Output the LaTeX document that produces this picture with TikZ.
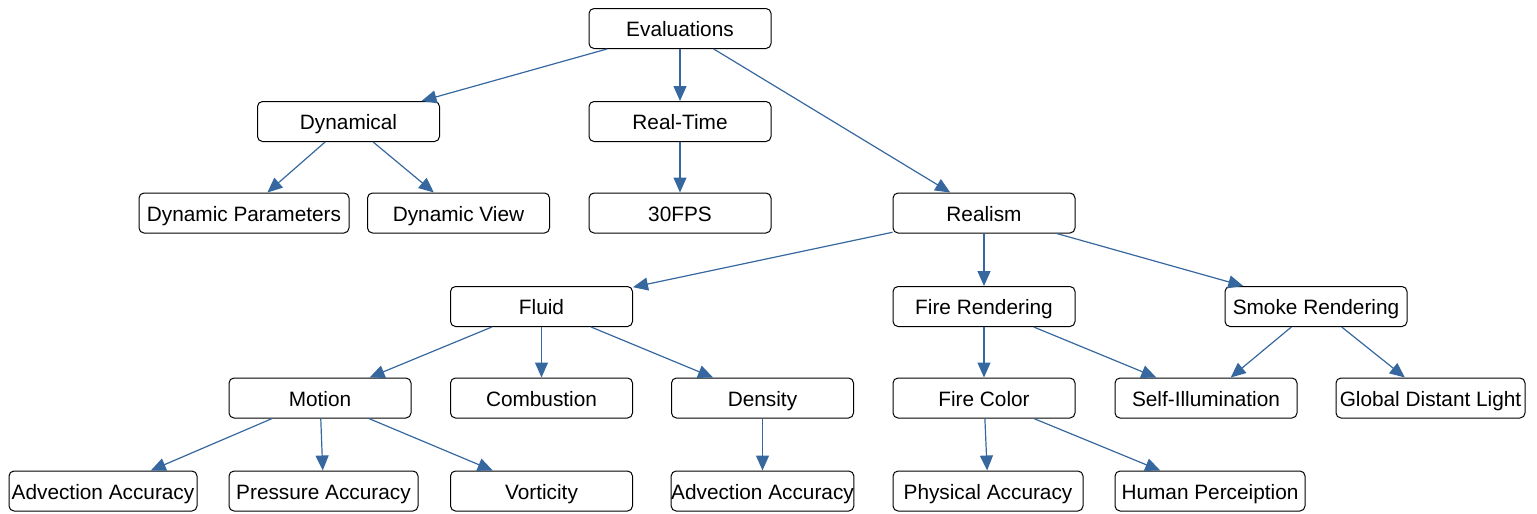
\documentclass[tikz,border=0pt]{standalone}
\usepackage{fontspec}
\setmainfont{Liberation Sans}
\usetikzlibrary{arrows.meta}
\definecolor{EdgeBlue}{HTML}{36689F}

\begin{document}
\begin{tikzpicture}[
  x=1pt, y=-1pt,
  box/.style={draw=black, line width=1pt, rounded corners=5pt, minimum width=182pt,
              minimum height=40pt, inner xsep=0pt, inner ysep=0pt,
              text height=16pt, text depth=0pt,
              font=\fontsize{20.8}{24}\selectfont},
  arr/.style={-{Triangle[length=15pt, width=13pt]}, EdgeBlue, line width=1.2pt},
]
  \useasboundingbox (0,0) rectangle (1537,514);

  \node[box] (eval) at (680,28.5) {Evaluations};

  \node[box] (dyn)  at (348.5,121.5) {Dynamical};
  \node[box] (rt)   at (680,121.5)   {Real-Time};

  \node[box, minimum width=210pt] (dynpar) at (244,213) {Dynamic Parameters};
  \node[box] (dynview) at (458.5,213) {Dynamic View};
  \node[box] (fps)     at (680,213)   {30FPS};
  \node[box] (real)    at (984,213)   {Realism};

  \node[box] (fluid) at (541.5,306.5) {Fluid};
  \node[box] (fire)  at (984,306.5)   {Fire Rendering};
  \node[box] (smoke) at (1316,306.5)  {Smoke Rendering};

  \node[box] (motion)  at (320,398)  {Motion};
  \node[box] (comb)    at (541.5,398) {Combustion};
  \node[box] (dens)    at (762.5,398) {Density};
  \node[box] (fcol)    at (984,398)   {Fire Color};
  \node[box] (selfill) at (1206,398)  {Self-Illumination};
  \node[box, minimum width=189pt] (glob) at (1430.5,398) {Global Distant Light};

  \node[box, minimum width=188pt] (advA) at (103,491)   {Advection Accuracy};
  \node[box, minimum width=189pt] (pres) at (323.5,491) {Pressure Accuracy};
  \node[box] (vort) at (541.5,491) {Vorticity};
  \node[box] (advB) at (762.5,491) {Advection Accuracy};
  \node[box, minimum width=190pt] (phys) at (988,491)  {Physical Accuracy};
  \node[box, minimum width=190pt] (hum)  at (1210,491) {Human Perceiption};

  \draw[arr] (eval) -- (dyn);
  \draw[arr] (eval) -- (rt);
  \draw[arr] (eval) -- (real);
  \draw[arr] (dyn) -- (dynpar);
  \draw[arr] (dyn) -- (dynview);
  \draw[arr] (rt) -- (fps);
  \draw[arr] (real) -- (fluid);
  \draw[arr] (real) -- (fire);
  \draw[arr] (real) -- (smoke);
  \draw[arr] (fluid) -- (motion);
  \draw[arr] (fluid) -- (comb);
  \draw[arr] (fluid) -- (dens);
  \draw[arr] (fire) -- (fcol);
  \draw[arr] (fire) -- (selfill);
  \draw[arr] (smoke) -- (selfill);
  \draw[arr] (smoke) -- (glob);
  \draw[arr] (motion) -- (advA);
  \draw[arr] (motion) -- (pres);
  \draw[arr] (motion) -- (vort);
  \draw[arr] (dens) -- (advB);
  \draw[arr] (fcol) -- (phys);
  \draw[arr] (fcol) -- (hum);
\end{tikzpicture}
\end{document}
